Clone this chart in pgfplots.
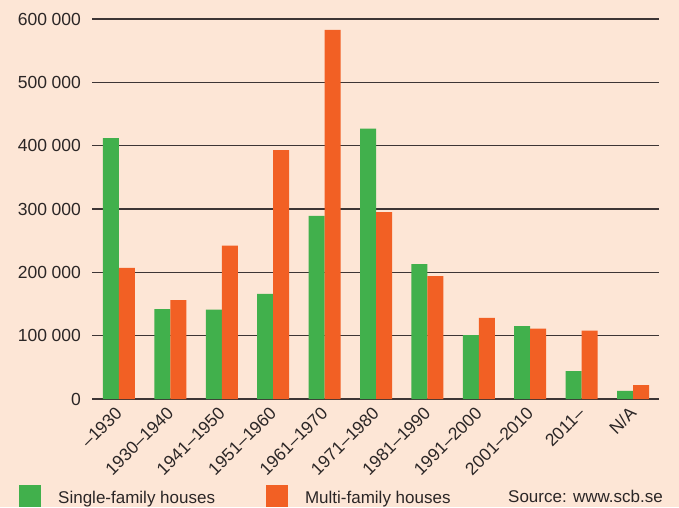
\documentclass[border=0pt]{standalone}
\usepackage{pgfplots}
\pgfplotsset{compat=1.18}
\usepackage{fontspec}
\setmainfont{Liberation Sans}
\definecolor{bg}{HTML}{FDE6D6}
\definecolor{sgreen}{HTML}{41B04C}
\definecolor{sorange}{HTML}{F26024}
\definecolor{gridc}{HTML}{3D3535}
\definecolor{txt}{HTML}{2B2626}
\begin{document}
\begin{tikzpicture}[x=1pt,y=1pt]
\fill[bg] (0,0) rectangle (679,507);
\begin{axis}[
  at={(92pt,108pt)}, anchor=south west,
  scale only axis, width=567pt, height=380pt,
  xmin=-0.525, xmax=10.505, ymin=0, ymax=600000,
  scaled y ticks=false,
  ybar=0pt, bar width=16pt,
  axis line style={draw=none},
  major tick length=0pt,
  ymajorgrids, grid style={gridc, line width=1.1pt},
  ytick={0,100000,200000,300000,400000,500000,600000},
  yticklabels={0,100\hspace{4.5pt}000,200\hspace{4.5pt}000,300\hspace{4.5pt}000,400\hspace{4.5pt}000,500\hspace{4.5pt}000,600\hspace{4.5pt}000},
  xtick={0,1,2,3,4,5,6,7,8,9,10},
  xticklabels={–1930,1930–1940,1941–1950,1951–1960,1961–1970,1971–1980,1981–1990,1991–2000,2001–2010,2011–,N/A},
  tick label style={font=\fontsize{17.5}{20}\selectfont, text=txt},
  xticklabel style={rotate=45, anchor=east, inner sep=0pt},
  xticklabel shift=11pt,
  yticklabel style={inner sep=0pt, xshift=-11pt},
  legend columns=2,
  legend style={at={(-0.1287,-0.2263)}, anchor=north west, draw=none, fill=none, inner sep=0pt,
    font=\fontsize{17}{20}\selectfont, text=txt,
    nodes={inner sep=0pt},
    /tikz/every odd column/.append style={column sep=17pt},
    /tikz/every even column/.append style={column sep=51pt}},
  legend image code/.code={\fill[#1] (0pt,-9.5pt) rectangle (22pt,12.5pt);},
]
\addplot[fill=sgreen, draw=none] coordinates {(0,412000) (1,142000) (2,141000) (3,166000) (4,289000) (5,427000) (6,213000) (7,101000) (8,115000) (9,44000) (10,13000)};
\addlegendentry{Single-family houses}
\addplot[fill=sorange, draw=none] coordinates {(0,207000) (1,156000) (2,242000) (3,393000) (4,583000) (5,295000) (6,194000) (7,128000) (8,111000) (9,108000) (10,22000)};
\addlegendentry{Multi-family houses}
\end{axis}
\node[anchor=base east, font=\fontsize{17}{20}\selectfont, text=txt, inner sep=0pt] at (663,5) {Source: www.scb.se};
\pgfresetboundingbox
\path (0,0) rectangle (679,507);
\end{tikzpicture}
\end{document}
